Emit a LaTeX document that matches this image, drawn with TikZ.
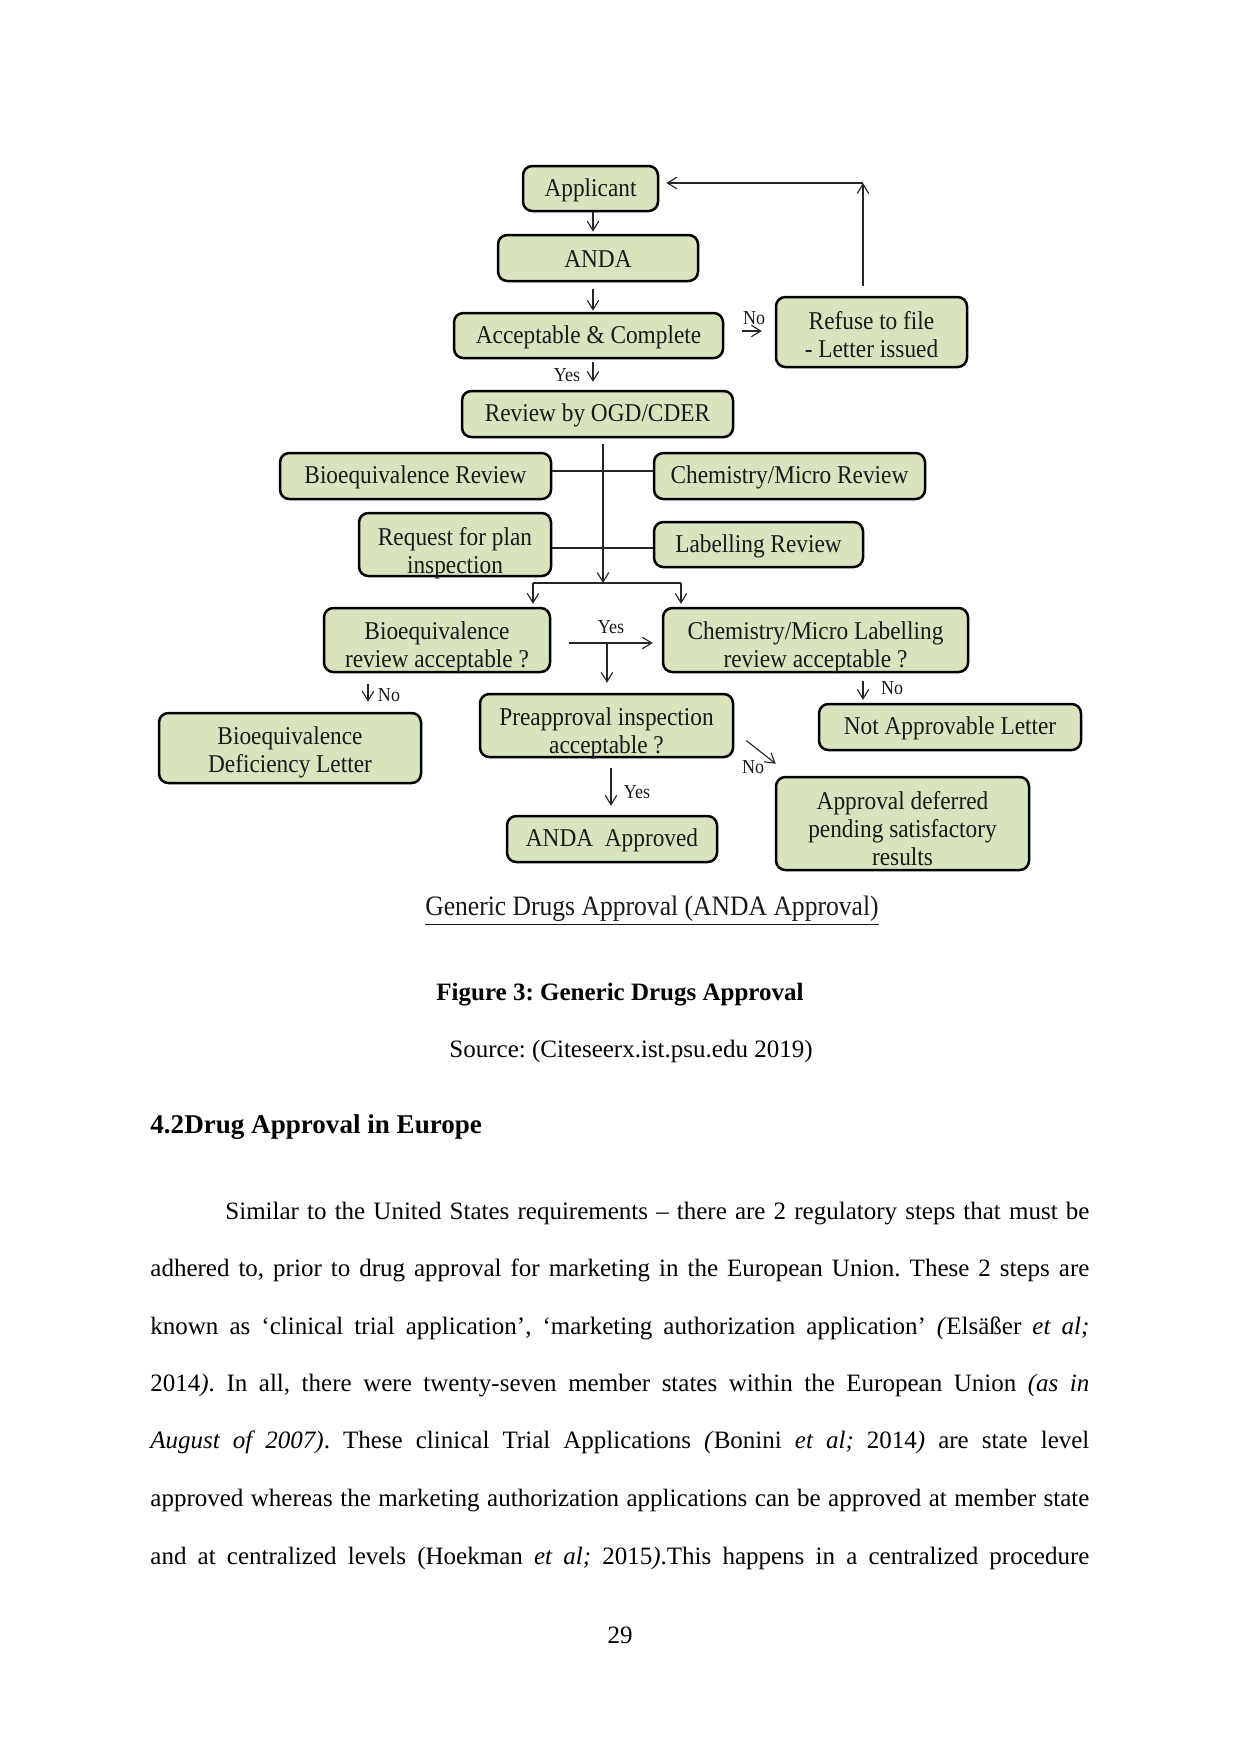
\documentclass[tikz,border=0pt]{standalone}
\usepackage{fontspec}
\setmainfont{Liberation Serif}
\newfontfamily\dfont[FakeStretch=0.91]{Liberation Serif}
\usetikzlibrary{arrows.meta,calc}
\definecolor{boxgreen}{RGB}{215,228,189}
\definecolor{boxtext}{RGB}{25,25,25}
\frenchspacing
\tikzset{
  box/.style={draw=black, line width=1.2pt, fill=boxgreen, rounded corners=4.5pt,
    inner sep=0pt, text=boxtext,
    font=\dfont\fontsize{12.3}{13.4}\selectfont},
  lab/.style={inner sep=0pt, text=boxtext, font=\dfont\fontsize{9.5}{10}\selectfont},
  conn/.style={draw=black!85, line width=0.55pt},
  arr/.style={conn, -{Straight Barb[length=4.5pt,width=5.5pt]}},
  bl/.style={anchor=base west, inner sep=0pt, font=\fontsize{12}{14}\selectfont},
  ctr/.style={anchor=base, inner sep=0pt}
}
% name, x1, y1, x2, y2, text, downward text shift (px)
\newcommand\bx[7]{\node[box, minimum width={(#4-#2)*0.48pt}, minimum height={(#5-#3)*0.48pt}] (#1) at ({(#2+#4)/2},{(#3+#5)/2}) {\raisebox{-#7\dimexpr 0.48pt\relax}[\height][\depth]{\begin{tabular}{@{}c@{}}#6\end{tabular}}};}
\begin{document}
\begin{tikzpicture}[x=0.48pt,y=-0.48pt]
\useasboundingbox (0,0) rectangle (1241,1754);
% boxes
\bx{app}{523}{166}{658}{211}{Applicant}{2}
\bx{anda}{498}{235}{698}{281}{ANDA}{3.5}
\bx{acc}{454}{313}{723}{358}{Acceptable \& Complete}{2.5}
\bx{refuse}{776}{297}{967}{367}{Refuse to file\\- Letter issued}{5.5}
\bx{rev}{462}{391}{733}{437}{Review by OGD/CDER}{1.5}
\bx{bior}{280}{453}{551}{499}{Bioequivalence Review}{1.5}
\bx{chemr}{654}{453}{925}{499}{Chemistry/Micro Review}{1.5}
\bx{req}{359}{513}{551}{576}{Request for plan\\inspection}{9}
\bx{lab}{654}{522}{863}{567}{Labelling Review}{2}
\bx{bioacc}{324}{608}{550}{672}{Bioequivalence\\review acceptable ?}{8}
\bx{chemacc}{663}{608}{968}{672}{Chemistry/Micro Labelling\\review acceptable ?}{8}
\bx{preap}{480}{694}{733}{757}{Preapproval inspection\\acceptable ?}{8}
\bx{defl}{159}{713}{421}{783}{Bioequivalence\\Deficiency Letter}{4.5}
\bx{aapp}{507}{816}{717}{862}{ANDA~ Approved}{1.5}
\bx{notapp}{819}{704}{1081}{750}{Not Approvable Letter}{1.5}
\bx{defer}{776}{777}{1029}{870}{Approval deferred\\pending satisfactory\\results}{8}
% coordinates
\coordinate (cx) at (593,0);
\coordinate (ny) at (0,331);
\coordinate (back) at (863,183);
\coordinate (jn) at (603,583);
\coordinate (h1) at (603,471);
\coordinate (h2) at (603,548);
\coordinate (sl) at (533,583);
\coordinate (sr) at (681,583);
\coordinate (ym) at (607,643);
\coordinate (nl) at (368,0);
\coordinate (yl) at (611,0);
\coordinate (nr) at (863,0);
% connectors
\draw[arr, shorten >=1pt] (app.south -| cx) -- (anda.north -| cx);
\draw[arr, shorten <=3.4pt, shorten >=0.5pt] (anda.south -| cx) -- (acc.north -| cx);
\draw[arr, shorten <=1.4pt, shorten >=3.8pt] (acc.south -| cx) -- (rev.north -| cx);
\draw[arr, shorten <=8.6pt, shorten >=6.2pt] (acc.east |- ny) -- (refuse.west |- ny);
\draw[arr, shorten <=4.8pt] (refuse.north -| back) -- (back);
\draw[arr, shorten >=3.4pt] (back) -- (app.east |- back);
\draw[arr, shorten <=2.9pt] (rev.south -| jn) -- (jn);
\draw[conn] (bior.east |- h1) -- (chemr.west |- h1);
\draw[conn] (req.east |- h2) -- (lab.west |- h2);
\draw[conn] (sl) -- (sr);
\draw[arr, shorten >=1.4pt] (sl) -- (bioacc.north -| sl);
\draw[arr, shorten >=1.4pt] (sr) -- (chemacc.north -| sr);
\draw[arr, shorten <=8.6pt, shorten >=4.3pt] (bioacc.east |- ym) -- (chemacc.west |- ym);
\draw[arr, shorten >=4.8pt] (ym) -- (preap.north -| ym);
\draw[arr, shorten <=5.3pt, shorten >=4.8pt] (bioacc.south -| nl) -- (defl.north -| nl);
\draw[arr, shorten <=4.8pt, shorten >=4.3pt] (preap.south -| yl) -- (aapp.north -| yl);
\draw[arr, shorten <=3.8pt, shorten >=1.4pt] (chemacc.south -| nr) -- (notapp.north -| nr);
\draw[arr] ($(preap.east)+(12,15)$) -- ($(defer.north west)+(1,-12)$);
% labels
\node[lab] (yes1) at (567,375) {Yes};
\node[lab] (no1) at (754,318) {No};
\node[lab] (yes2) at (611,627) {Yes};
\node[lab] (no2) at (389,695) {No};
\node[lab] (yes3) at (637,792) {Yes};
\node[lab] (no3) at (892,688) {No};
\node[lab] (no4) at (753,767) {No};
% diagram caption
\node[ctr, font=\dfont\fontsize{13.5}{15}\selectfont, text=boxtext] (dcap) at (652,915) {\underline{Generic Drugs Approval (ANDA Approval)}};
% page text
\node[ctr, font=\bfseries\fontsize{12}{14}\selectfont] (fig) at (620,1000) {Figure 3: Generic Drugs Approval};
\node[ctr, font=\fontsize{12}{14}\selectfont] (src) at (631,1057) {Source: (Citeseerx.ist.psu.edu 2019)};
\node[anchor=base west, inner sep=0pt, font=\bfseries\fontsize{13}{15}\selectfont] (head) at (150,1133) {4.2Drug Approval in Europe};
\node[bl] (l1) at (225,1219) {\hbox to 414.7pt{Similar to the United States requirements – there are 2 regulatory steps that must be}};
\node[bl] (l2) at (150,1276) {\hbox to 450.7pt{adhered to, prior to drug approval for marketing in the European Union. These 2 steps are}};
\node[bl] (l3) at (150,1334) {\hbox to 450.7pt{known as ‘clinical trial application’, ‘marketing authorization application’ \textit{(}Elsäßer \textit{et al;}}};
\node[bl] (l4) at (150,1391) {\hbox to 450.7pt{2014\textit{)}. In all, there were twenty-seven member states within the European Union \textit{(as in}}};
\node[bl] (l5) at (150,1448) {\hbox to 450.7pt{\textit{August of 2007)}. These clinical Trial Applications \textit{(}Bonini \textit{et al;} 2014\textit{)} are state level}};
\node[bl] (l6) at (150,1506) {\hbox to 450.7pt{approved whereas the marketing authorization applications can be approved at member state}};
\node[bl] (l7) at (150,1564) {\hbox to 450.7pt{and at centralized levels (Hoekman \textit{et al;} 2015\textit{)}.This happens in a centralized procedure}};
\node[ctr, font=\fontsize{12}{14}\selectfont] (pg) at (620,1643) {29};
\end{tikzpicture}
\end{document}
